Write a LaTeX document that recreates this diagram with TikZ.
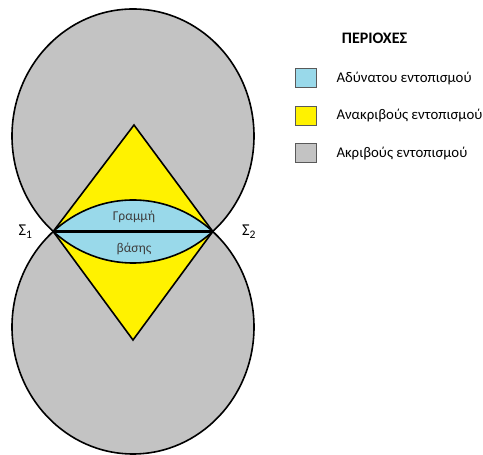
\documentclass[tikz,border=0pt]{standalone}
\usepackage{fontspec}
\setmainfont{Carlito}
\definecolor{zoneblue}{RGB}{153,217,234}
\definecolor{zoneyellow}{RGB}{255,242,0}
\definecolor{zonegray}{RGB}{195,195,195}
\definecolor{inktext}{RGB}{64,64,64}
\tikzset{
  outline/.style={draw=black, line width=1.6pt},
  legendbox/.style={draw=black!65, line width=1pt, minimum width=21pt, minimum height=19pt, inner sep=0pt},
  legendtext/.style={anchor=west, font=\fontsize{14.8}{17}\selectfont, text=black},
  innertext/.style={font=\fontsize{13.5}{16}\selectfont, text=inktext},
  station/.style={font=\fontsize{16.5}{19}\selectfont}
}
\begin{document}
\begin{tikzpicture}[x=1pt,y=1pt]
\useasboundingbox (0,0) rectangle (483,455);
% centres of the two coverage ellipses
\coordinate (ct) at (133,319);
\coordinate (cb) at (133,128);
% stations at the crossing points of the ellipses
\coordinate (s1) at (53.2,223.5);
\coordinate (s2) at (212.8,223.5);
% diamond apexes
\coordinate (dtop) at (134,330);
\coordinate (dbot) at (133,115);

% accurate region: the two ellipses
\fill[zonegray] (ct) ellipse [x radius=121pt, y radius=127pt];
\fill[zonegray] (cb) ellipse [x radius=121pt, y radius=127pt];
\draw[outline] (ct) ellipse [x radius=121pt, y radius=127pt];
\draw[outline] (cb) ellipse [x radius=121pt, y radius=127pt];

% inaccurate region: the diamond
\filldraw[fill=zoneyellow, outline, line join=miter] (dtop) -- (s2) -- (dbot) -- (s1) -- cycle;

% impossible region: the lens shared by both ellipses
\begin{scope}
  \clip (ct) ellipse [x radius=121pt, y radius=127pt];
  \fill[zoneblue] (cb) ellipse [x radius=121pt, y radius=127pt];
  \draw[outline] (cb) ellipse [x radius=121pt, y radius=127pt];
\end{scope}
\begin{scope}
  \clip (cb) ellipse [x radius=121pt, y radius=127pt];
  \draw[outline] (ct) ellipse [x radius=121pt, y radius=127pt];
\end{scope}

% base line between the stations
\draw[line width=3pt] (s1) -- (s2);

\node[innertext] (lineA) at (134,238) {Γραμμή};
\node[innertext] (lineB) at (134,206) {βάσης};
\node[station] (lab1) at (25.5,223.5) {Σ\textsubscript{1}};
\node[station] (lab2) at (249,223) {Σ\textsubscript{2}};

% legend
\node[font=\fontsize{16}{19}\selectfont\bfseries] (title) at (374.5,417) {ΠΕΡΙΟΧΕΣ};
\node[legendbox, fill=zoneblue] (k1) at (305.5,376.5) {};
\node[legendbox, fill=zoneyellow] (k2) at (305.5,339) {};
\node[legendbox, fill=zonegray] (k3) at (305.5,301.5) {};
\node[legendtext] (t1) at (333,376.5) {Αδύνατου εντοπισμού};
\node[legendtext] (t2) at (333,339) {Ανακριβούς εντοπισμού};
\node[legendtext] (t3) at (333,301.5) {Ακριβούς εντοπισμού};
\end{tikzpicture}
\end{document}
